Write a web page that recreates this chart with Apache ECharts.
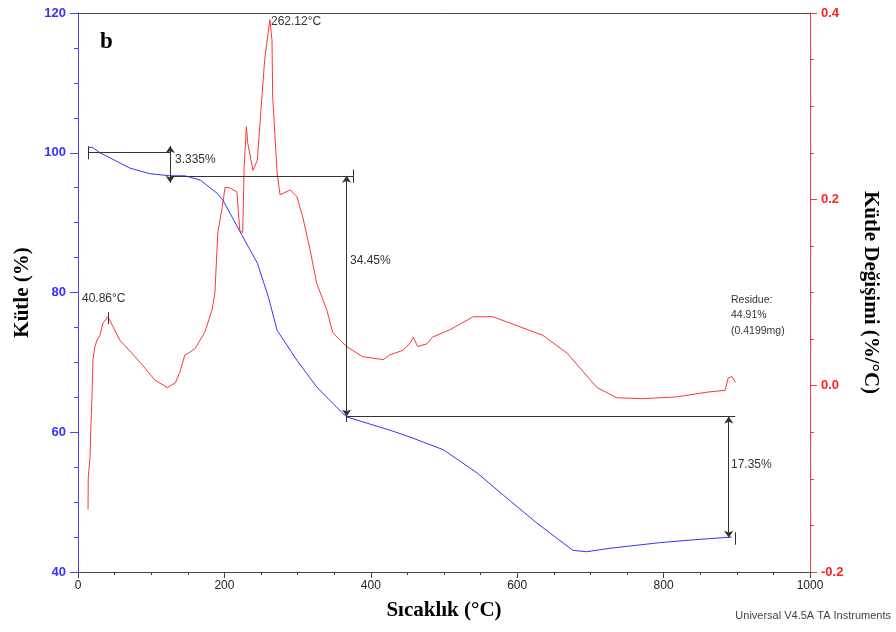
<!DOCTYPE html>
<html>
<head>
<meta charset="utf-8">
<script src="https://cdn.jsdelivr.net/npm/echarts@6/dist/echarts.min.js"></script>
<style>html,body{margin:0;padding:0;background:#fff}#main{width:896px;height:632px}</style>
</head>
<body>
<div id="main"></div>
<script>
// TGA curve: temperature (°C) and mass (%)
var massT = [13.7, 19, 30, 71, 98, 126, 146, 167, 190, 198, 224, 245, 260, 272, 299, 326, 354, 367, 426, 454, 499, 545, 581, 627, 676, 695, 727, 795, 840, 893];
var massM = [100.7, 100.8, 100.0, 97.8, 97.0, 96.7, 96.7, 96.1, 94.2, 93.2, 88.2, 84.2, 79.4, 74.6, 70.3, 66.5, 63.5, 62.2, 60.3, 59.3, 57.5, 54.2, 51.0, 47.0, 43.1, 42.9, 43.4, 44.2, 44.6, 45.0];

// DTG curve: temperature (°C) and mass change (%/°C)
var dtgT = [13.7, 14, 16.4, 17.8, 19.1, 20.5, 23.2, 26, 30, 34, 40.86, 57, 85, 105, 122, 133, 139, 146, 153, 160, 173, 183, 187, 191, 197, 201, 208, 217, 219, 221, 225, 227, 230, 232, 239, 245, 251, 255, 262.12, 265, 266, 272, 276, 290, 299, 307, 317, 326, 340, 348, 367, 389, 417, 426, 444, 454, 458, 464, 477, 484, 508, 540, 567, 635, 668, 709, 736, 772, 818, 859, 884, 888, 893, 898];
var dtgD = [-0.133, -0.099, -0.077, -0.040, -0.012, 0.028, 0.042, 0.049, 0.054, 0.067, 0.074, 0.049, 0.025, 0.006, -0.002, 0.003, 0.014, 0.033, 0.036, 0.040, 0.057, 0.081, 0.099, 0.164, 0.192, 0.213, 0.212, 0.208, 0.210, 0.167, 0.164, 0.235, 0.278, 0.260, 0.231, 0.242, 0.307, 0.350, 0.393, 0.371, 0.310, 0.228, 0.205, 0.210, 0.203, 0.181, 0.146, 0.110, 0.081, 0.057, 0.042, 0.031, 0.028, 0.033, 0.038, 0.046, 0.052, 0.042, 0.045, 0.052, 0.060, 0.074, 0.074, 0.054, 0.035, -0.002, -0.013, -0.014, -0.012, -0.007, -0.005, 0.008, 0.010, 0.004];

// peak temperatures (°C)
var peakTemps = [40.86, 262.12];

// step analysis markers (mass %)
var stepT = [14, 126, 367, 376, 889, 898];
var stepLevels = [100.05, 96.7, 62.25, 44.9];

function pairs(xs, ys) {
    return xs.map(function (x, i) { return [x, ys[i]]; });
}
function seg(x1, y1, x2, y2) {
    return [{ coord: [x1, y1] }, { coord: [x2, y2] }];
}
function arrowSeg(x1, y1, x2, y2) {
    return [{ coord: [x1, y1], symbol: 'arrow' }, { coord: [x2, y2], symbol: 'arrow' }];
}

var chart = echarts.init(document.getElementById('main'));
var txt = '#333';
var sans = 'Liberation Sans';
var serif = 'Liberation Serif';

var option = {
    animation: false,
    grid: { left: 78, right: 86, top: 13, bottom: 60 },
    xAxis: [
        {
            type: 'value', min: 0, max: 1000, interval: 200,
            name: 'Sıcaklık (°C)', nameLocation: 'middle', nameGap: 28,
            nameTextStyle: { fontFamily: serif, fontWeight: 'bold', fontSize: 21, color: '#000' },
            axisLine: { onZero: false, lineStyle: { color: '#444' } },
            axisTick: { length: 6, lineStyle: { color: '#444' } },
            minorTick: { show: true, splitNumber: 4, length: 3, lineStyle: { color: '#444' } },
            axisLabel: { color: '#222', fontFamily: sans, fontSize: 12, margin: 8, formatter: function (v) { return String(v); } },
            splitLine: { show: false }
        },
        {
            type: 'value', min: 0, max: 1000, position: 'top',
            axisLine: { show: true, onZero: false, lineStyle: { color: '#444' } },
            axisTick: { show: false }, axisLabel: { show: false }, splitLine: { show: false }
        }
    ],
    yAxis: [
        {
            type: 'value', min: 40, max: 120, interval: 20, position: 'left',
            name: 'Kütle (%)', nameLocation: 'middle', nameGap: 43,
            nameTextStyle: { fontFamily: serif, fontWeight: 'bold', fontSize: 21, color: '#000' },
            axisLine: { show: true, onZero: false, lineStyle: { color: '#4444ff' } },
            axisTick: { length: 8, lineStyle: { color: '#4444ff' } },
            minorTick: { show: true, splitNumber: 4, length: 4, lineStyle: { color: '#4444ff' } },
            axisLabel: { color: '#3333ff', fontFamily: sans, fontSize: 13, fontWeight: 'bold', margin: 12 },
            splitLine: { show: false }
        },
        {
            type: 'value', min: -0.2, max: 0.4, interval: 0.2, position: 'right',
            name: 'Kütle Değişimi (%/°C)', nameLocation: 'middle', nameGap: 50, nameRotate: -90,
            nameTextStyle: { fontFamily: serif, fontWeight: 'bold', fontSize: 21, color: '#000' },
            axisLine: { show: true, onZero: false, lineStyle: { color: '#ff3333' } },
            axisTick: { length: 7, lineStyle: { color: '#ff3333' } },
            minorTick: { show: true, splitNumber: 4, length: 4, lineStyle: { color: '#ff3333' } },
            axisLabel: {
                color: '#ff2222', fontFamily: sans, fontSize: 13, fontWeight: 'bold', margin: 11,
                formatter: function (v) { return v.toFixed(1); }
            },
            splitLine: { show: false }
        }
    ],
    series: [
        {
            type: 'line', name: 'DTG', yAxisIndex: 1, data: pairs(dtgT, dtgD),
            showSymbol: false, clip: false, silent: true,
            lineStyle: { color: '#ff3333', width: 1 },
            markLine: {
                silent: true, symbol: 'none', label: { show: false },
                lineStyle: { color: '#333', type: 'solid', width: 1 },
                data: [
                    seg(peakTemps[1], 0.386, peakTemps[1], 0.41),
                    seg(peakTemps[0], 0.066, peakTemps[0], 0.079)
                ]
            }
        },
        {
            type: 'line', name: 'TGA', yAxisIndex: 0, data: pairs(massT, massM),
            showSymbol: false, clip: false, silent: true,
            lineStyle: { color: '#3333ff', width: 1 },
            markLine: {
                silent: true, symbol: 'none', symbolSize: 7, label: { show: false },
                lineStyle: { color: '#333', type: 'solid', width: 1 },
                data: [
                    seg(stepT[0], stepLevels[0], stepT[1], stepLevels[0]),
                    seg(stepT[0], stepLevels[0] - 1, stepT[0], stepLevels[0] + 0.9),
                    seg(stepT[1], stepLevels[1], stepT[3], stepLevels[1]),
                    arrowSeg(stepT[1], stepLevels[0] + 0.9, stepT[1], stepLevels[1] - 1),
                    seg(stepT[3], stepLevels[1] + 0.9, stepT[3], stepLevels[1] - 1),
                    arrowSeg(stepT[2], stepLevels[1], stepT[2], stepLevels[2]),
                    seg(stepT[2], stepLevels[2], stepT[5], stepLevels[2]),
                    seg(stepT[2], stepLevels[2] + 0.8, stepT[2], stepLevels[2] - 0.8),
                    arrowSeg(stepT[4], stepLevels[2], stepT[4], stepLevels[3]),
                    seg(stepT[5], stepLevels[3] + 0.8, stepT[5], stepLevels[3] - 1)
                ]
            }
        }
    ],
    graphic: [
        { type: 'text', left: 100, top: 31, style: { text: 'b', font: 'bold 23px "Liberation Serif"', fill: '#000' } },
        { type: 'text', left: 271, top: 16, style: { text: '262.12°C', font: '12px "Liberation Sans"', fill: txt } },
        { type: 'text', left: 82, top: 293, style: { text: '40.86°C', font: '12px "Liberation Sans"', fill: txt } },
        { type: 'text', left: 175, top: 154, style: { text: '3.335%', font: '12px "Liberation Sans"', fill: txt } },
        { type: 'text', left: 350, top: 255, style: { text: '34.45%', font: '12px "Liberation Sans"', fill: txt } },
        { type: 'text', left: 731, top: 459, style: { text: '17.35%', font: '12px "Liberation Sans"', fill: txt } },
        { type: 'text', left: 731, top: 292, style: { text: 'Residue:\n44.91%\n(0.4199mg)', font: '10.5px "Liberation Sans"', lineHeight: 15.5, fill: txt } },
        { type: 'text', right: 5, top: 610, style: { text: 'Universal V4.5A TA Instruments', font: '11px "Liberation Sans"', fill: '#444' } }
    ]
};

chart.setOption(option);
</script>
</body>
</html>
